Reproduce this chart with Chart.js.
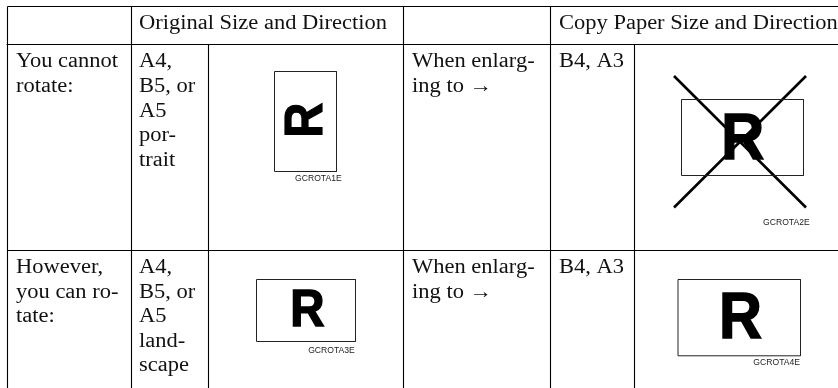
<!DOCTYPE html>
<html>
<head>
<meta charset="utf-8">
<style>
    html, body { margin: 0; padding: 0; background: #fff; }
    canvas { display: block; }
</style>
<script src="https://cdn.jsdelivr.net/npm/chart.js@4/dist/chart.umd.min.js"></script>
</head>
<body>
<canvas id="myChart" width="838" height="388"></canvas>
<script>
// table geometry, in axis units
const axisX = [0, 838];
const axisY = [388, 0];
const columnEdges = [7.5, 131.5, 208.5, 403.5, 550.5, 634.5];
const rowEdges = [6.5, 44.5, 250.5, 388];
const tableRight = 838;

// sheets: left, top, right, bottom
const sheetA = [274.5, 71.5, 336.5, 171.5];
const sheetB = [681.5, 99.5, 803.5, 175.5];
const sheetC = [256.5, 279.5, 355.5, 341.5];
const sheetD = [678, 279.5, 800.5, 355.8];
const crossBox = [674, 76, 806, 207.5];

// text
const headerOriginal = ['Original Size and Direction'];
const headerCopy = ['Copy Paper Size and Direction'];
const rowLabelCannot = ['You cannot', 'rotate:'];
const rowLabelCan = ['However,', 'you can ro-', 'tate:'];
const sizesPortrait = ['A4,', 'B5, or', 'A5', 'por-', 'trait'];
const sizesLandscape = ['A4,', 'B5, or', 'A5', 'land-', 'scape'];
const enlarging = ['When enlarg-', 'ing to \u2192'];
const copySizes = ['B4, A3'];
const imageCodes = ['GCROTA1E', 'GCROTA2E', 'GCROTA3E', 'GCROTA4E'];
const sheetLetter = 'R';

const serif = '20px "Liberation Serif"';
const serifStretch = 1.125;
const lineGap = 24.6;

function segment(x1, y1, x2, y2, width) {
    return {
        data: [{x: x1, y: y1}, {x: x2, y: y2}],
        borderColor: '#000',
        borderWidth: width,
        pointRadius: 0,
        showLine: true,
    };
}

function sheet(box, width) {
    return {
        data: [
            {x: box[0], y: box[1]},
            {x: box[2], y: box[1]},
            {x: box[2], y: box[3]},
            {x: box[0], y: box[3]},
            {x: box[0], y: box[1]},
        ],
        borderColor: '#222',
        borderWidth: width,
        pointRadius: 0,
        showLine: true,
    };
}

let datasets = [
    segment(columnEdges[0], rowEdges[0], tableRight, rowEdges[0], 1.1),
    segment(columnEdges[0] - 1, rowEdges[1], tableRight, rowEdges[1], 1.1),
    segment(columnEdges[0], rowEdges[2], tableRight, rowEdges[2], 1.1),
    segment(columnEdges[0], rowEdges[0], columnEdges[0], rowEdges[3], 1.1),
    segment(columnEdges[1], rowEdges[0], columnEdges[1], rowEdges[3], 1.1),
    segment(columnEdges[2], rowEdges[1], columnEdges[2], rowEdges[3], 1.1),
    segment(columnEdges[3], rowEdges[0], columnEdges[3], rowEdges[3], 1.1),
    segment(columnEdges[4], rowEdges[0], columnEdges[4], rowEdges[3], 1.1),
    segment(columnEdges[5], rowEdges[1], columnEdges[5], rowEdges[3], 1.1),
    sheet(sheetA, 1),
    sheet(sheetB, 1),
    sheet(sheetC, 1),
    sheet(sheetD, 1),
    segment(crossBox[0], crossBox[1], crossBox[2], crossBox[3], 2.6),
    segment(crossBox[2], crossBox[1], crossBox[0], crossBox[3], 2.6),
];

const textBlocks = [
    {lines: headerOriginal, x: 139, y: 29},
    {lines: headerCopy, x: 559, y: 29},
    {lines: rowLabelCannot, x: 16, y: 67.4},
    {lines: sizesPortrait, x: 139, y: 67.4},
    {lines: enlarging, x: 412, y: 67.4},
    {lines: copySizes, x: 559, y: 67.4},
    {lines: rowLabelCan, x: 16, y: 273},
    {lines: sizesLandscape, x: 139, y: 273},
    {lines: enlarging, x: 412, y: 273},
    {lines: copySizes, x: 559, y: 273},
];

// x and y are the middle of the baseline
const letters = [
    {x: 322.1, y: 120.2, size: 53, squeeze: 0.92, rotate: -Math.PI / 2, weight: 1.2},
    {x: 742.8, y: 158.6, size: 64, squeeze: 0.93, rotate: 0, weight: 1.5},
    {x: 307.3, y: 326, size: 51.6, squeeze: 0.92, rotate: 0, weight: 1.5},
    {x: 740.5, y: 338.3, size: 64, squeeze: 0.93, rotate: 0, weight: 1.5},
];

const codes = [
    {text: imageCodes[0], x: 341.7, y: 181},
    {text: imageCodes[1], x: 809.7, y: 225},
    {text: imageCodes[2], x: 354.8, y: 353},
    {text: imageCodes[3], x: 800, y: 365.4},
];

const tableText = {
    id: 'tableText',
    afterDatasetsDraw(chart) {
        let ctx = chart.ctx;
        let px = v => chart.scales.x.getPixelForValue(v);
        let py = v => chart.scales.y.getPixelForValue(v);
        ctx.save();
        ctx.fillStyle = '#111';
        ctx.textAlign = 'left';
        ctx.textBaseline = 'alphabetic';
        ctx.font = serif;
        textBlocks.forEach(block => {
            block.lines.forEach((line, i) => {
                ctx.save();
                ctx.translate(px(block.x), py(block.y + i * lineGap));
                ctx.scale(serifStretch, 1);
                ctx.fillText(line, 0, 0);
                ctx.restore();
            });
        });

        ctx.fillStyle = '#000';
        ctx.strokeStyle = '#000';
        ctx.textAlign = 'center';
        letters.forEach(l => {
            ctx.save();
            ctx.translate(px(l.x), py(l.y));
            ctx.rotate(l.rotate);
            ctx.scale(l.squeeze, 1);
            ctx.font = 'bold ' + l.size + 'px "Liberation Sans"';
            ctx.lineWidth = l.weight;
            ctx.fillText(sheetLetter, 0, 0);
            ctx.strokeText(sheetLetter, 0, 0);
            ctx.restore();
        });

        ctx.fillStyle = '#222';
        ctx.textAlign = 'right';
        ctx.font = '8.6px "Liberation Sans"';
        codes.forEach(c => ctx.fillText(c.text, px(c.x), py(c.y)));
        ctx.restore();
    }
};

new Chart(document.getElementById('myChart'), {
    type: 'scatter',
    data: {datasets: datasets},
    plugins: [tableText],
    options: {
        responsive: false,
        animation: false,
        layout: {padding: 0},
        plugins: {legend: {display: false}, tooltip: {enabled: false}},
        scales: {
            x: {type: 'linear', display: false, min: axisX[0], max: axisX[1]},
            y: {type: 'linear', display: false, min: axisY[1], max: axisY[0], reverse: true},
        },
    },
});
</script>
</body>
</html>
